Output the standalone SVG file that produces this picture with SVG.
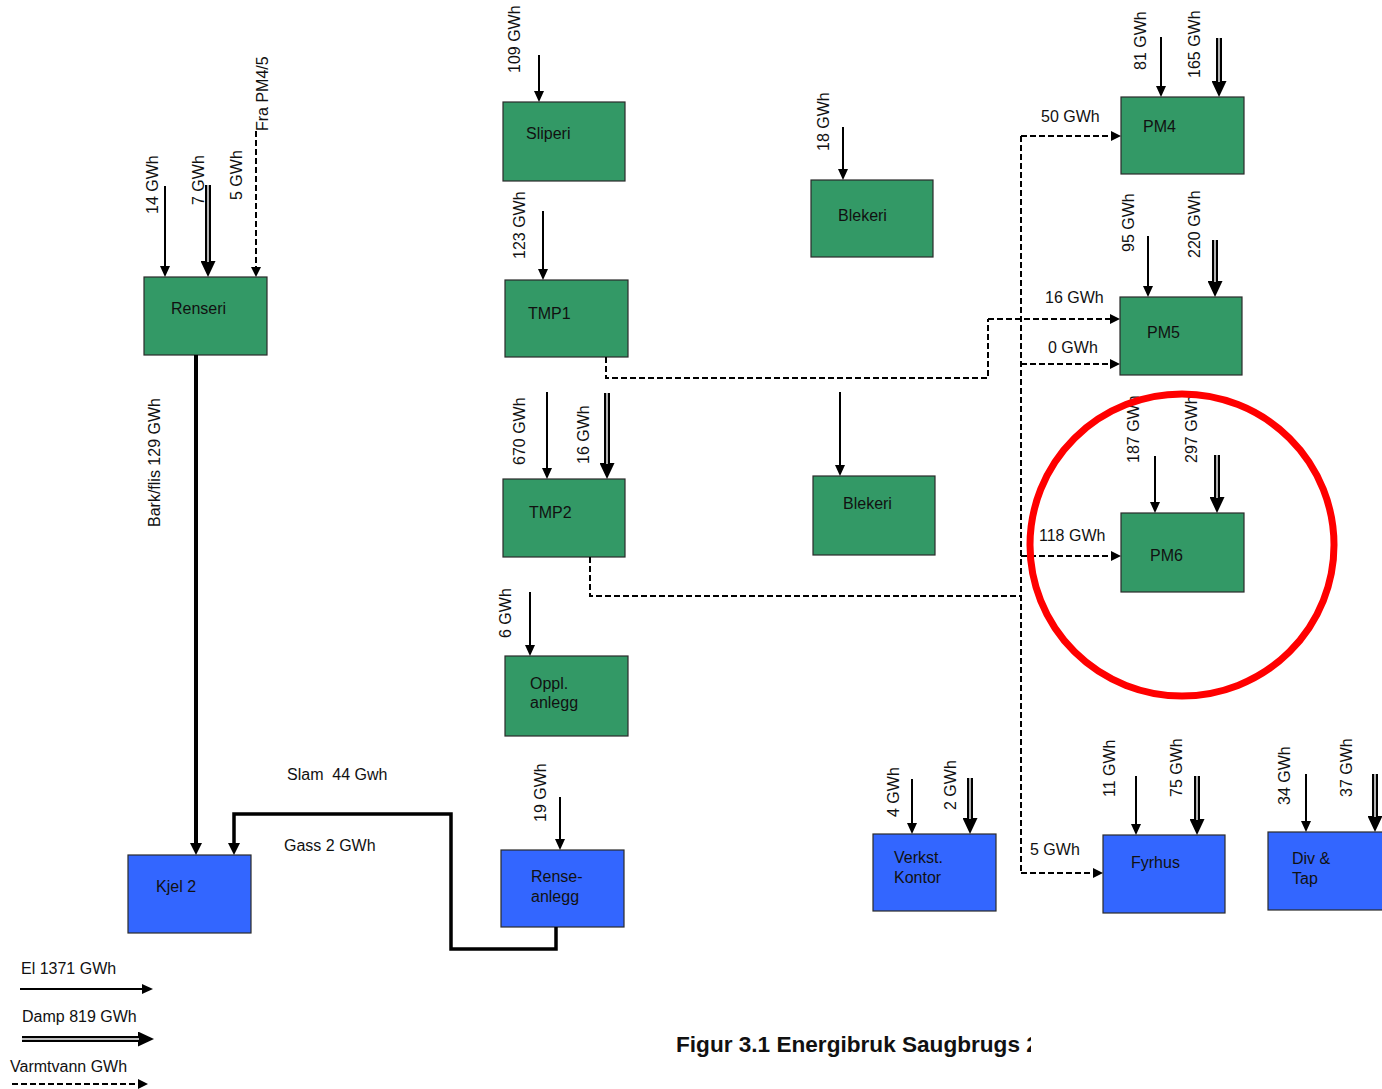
<svg xmlns="http://www.w3.org/2000/svg" width="1382" height="1089" viewBox="0 0 1382 1089">
<style>
text{font-family:"Liberation Sans",Arial,sans-serif;font-size:16px;fill:#111}
.g{fill:#339966;stroke:#2a2a2a;stroke-width:1.2}
.b{fill:#3366ff;stroke:#2a2a2a;stroke-width:1.2}
.el{stroke:#000;stroke-width:2;fill:none;marker-end:url(#elH)}
.st{stroke:#000;stroke-width:6;fill:none;marker-end:url(#stH)}
.sti{stroke:#fff;stroke-width:1.4;fill:none}
.vt{stroke:#000;stroke-width:2;fill:none;stroke-dasharray:6 3}
.vta{stroke:#000;stroke-width:2;fill:none;stroke-dasharray:6 3;marker-end:url(#vtH)}
.thick{stroke:#000;stroke-width:4;fill:none;marker-end:url(#thH)}
.title{font-size:22.6px;font-weight:bold}
</style>
<defs>
<marker id="elH" markerUnits="userSpaceOnUse" markerWidth="11" markerHeight="10" refX="0" refY="5" orient="auto"><path d="M0,0 L11,5 L0,10 z" fill="#000"/></marker>
<marker id="stH" markerUnits="userSpaceOnUse" markerWidth="16" markerHeight="15" refX="0" refY="7.5" orient="auto"><path d="M0,0 L16,7.5 L0,15 z" fill="#000"/></marker>
<marker id="vtH" markerUnits="userSpaceOnUse" markerWidth="10" markerHeight="10" refX="0" refY="5" orient="auto"><path d="M0,0 L10,5 L0,10 z" fill="#000"/></marker>
<marker id="thH" markerUnits="userSpaceOnUse" markerWidth="12" markerHeight="12" refX="0" refY="6" orient="auto"><path d="M0,0 L12,6 L0,12 z" fill="#000"/></marker>
<clipPath id="tclip"><rect x="0" y="1000" width="1031" height="89"/></clipPath>
</defs>

<g id="renseri"><rect class="g" x="144" y="277" width="123" height="78"/><text x="171" y="314">Renseri</text></g>
<g id="sliperi"><rect class="g" x="503" y="102" width="122" height="79"/><text x="526" y="139">Sliperi</text></g>
<g id="tmp1"><rect class="g" x="505" y="280" width="123" height="77"/><text x="528" y="319">TMP1</text></g>
<g id="tmp2"><rect class="g" x="503" y="479" width="122" height="78"/><text x="529" y="518">TMP2</text></g>
<g id="oppl"><rect class="g" x="505" y="656" width="123" height="80"/><text x="530" y="689">Oppl.</text><text x="530" y="708">anlegg</text></g>
<g id="blekeri1"><rect class="g" x="811" y="180" width="122" height="77"/><text x="838" y="221">Blekeri</text></g>
<g id="blekeri2"><rect class="g" x="813" y="476" width="122" height="79"/><text x="843" y="509">Blekeri</text></g>
<g id="pm4"><rect class="g" x="1121" y="97" width="123" height="77"/><text x="1143" y="132">PM4</text></g>
<g id="pm5"><rect class="g" x="1120" y="297" width="122" height="78"/><text x="1147" y="338">PM5</text></g>
<g id="pm6"><rect class="g" x="1121" y="513" width="123" height="79"/><text x="1150" y="561">PM6</text></g>
<g id="kjel2"><rect class="b" x="128" y="855" width="123" height="78"/><text x="156" y="892">Kjel 2</text></g>
<g id="renseanlegg"><rect class="b" x="501" y="850" width="123" height="77"/><text x="531" y="882">Rense-</text><text x="531" y="902">anlegg</text></g>
<g id="verkst"><rect class="b" x="873" y="834" width="123" height="77"/><text x="894" y="863">Verkst.</text><text x="894" y="883">Kontor</text></g>
<g id="fyrhus"><rect class="b" x="1103" y="835" width="122" height="78"/><text x="1131" y="868">Fyrhus</text></g>
<g id="divtap"><rect class="b" x="1268" y="832" width="130" height="78"/><text x="1292" y="864">Div &amp;</text><text x="1292" y="884">Tap</text></g>

<g id="connectors">
<path class="el" d="M165,186 V266"/>
<path class="el" d="M539,55 V91"/>
<path class="el" d="M543,211 V269"/>
<path class="el" d="M547,392 V468"/>
<path class="el" d="M530,592 V645"/>
<path class="el" d="M560,797 V839"/>
<path class="el" d="M843,127 V169"/>
<path class="el" d="M840,392 V465"/>
<path class="el" d="M1161,37 V86"/>
<path class="el" d="M1148,236 V286"/>
<path class="el" d="M1155,456 V502"/>
<path class="el" d="M912,779 V823"/>
<path class="el" d="M1136,776 V824"/>
<path class="el" d="M1306,774 V821"/>
<path class="st" d="M208,185 V261"/><path class="sti" d="M208,185 V262"/>
<path class="st" d="M607,393 V463"/><path class="sti" d="M607,393 V464"/>
<path class="st" d="M1219,38 V81"/><path class="sti" d="M1219,38 V82"/>
<path class="st" d="M1215,240 V281"/><path class="sti" d="M1215,240 V282"/>
<path class="st" d="M1217,455 V497"/><path class="sti" d="M1217,455 V498"/>
<path class="st" d="M970,778 V818"/><path class="sti" d="M970,778 V819"/>
<path class="st" d="M1197,776 V819"/><path class="sti" d="M1197,776 V820"/>
<path class="st" d="M1375,774 V816"/><path class="sti" d="M1375,774 V817"/>
<path class="vta" d="M256,131 V267"/>
<path class="vt" d="M606,357 V378 H988 V319"/>
<path class="vta" d="M988,319 H1110"/>
<path class="vt" d="M1021,136 V873"/>
<path class="vta" d="M1021,136 H1111"/>
<path class="vta" d="M1021,364 H1110"/>
<path class="vta" d="M1021,556 H1111"/>
<path class="vta" d="M1021,873 H1093"/>
<path class="vt" d="M590,557 V596 H1021"/>
<path class="thick" d="M196,355 V843"/>
<path class="thick" style="stroke-width:3.5" d="M556,927 V949 H451 V814 H234 V843"/>
</g>

<g id="labels">
<text transform="translate(158,214) rotate(-90)">14 GWh</text>
<text transform="translate(204,205) rotate(-90)">7 GWh</text>
<text transform="translate(242,200) rotate(-90)">5 GWh</text>
<text transform="translate(268,131) rotate(-90)">Fra PM4/5</text>
<text transform="translate(160,527) rotate(-90)">Bark/flis 129 GWh</text>
<text transform="translate(520,73) rotate(-90)">109 GWh</text>
<text transform="translate(525,259) rotate(-90)">123 GWh</text>
<text transform="translate(525,465) rotate(-90)">670 GWh</text>
<text transform="translate(589,464) rotate(-90)">16 GWh</text>
<text transform="translate(511,638) rotate(-90)">6 GWh</text>
<text transform="translate(546,822) rotate(-90)">19 GWh</text>
<text transform="translate(829,151) rotate(-90)">18 GWh</text>
<text transform="translate(1146,70) rotate(-90)">81 GWh</text>
<text transform="translate(1200,78) rotate(-90)">165 GWh</text>
<text transform="translate(1134,252) rotate(-90)">95 GWh</text>
<text transform="translate(1200,258) rotate(-90)">220 GWh</text>
<text transform="translate(1139,463) rotate(-90)">187 GWh</text>
<text transform="translate(1197,463) rotate(-90)">297 GWh</text>
<text transform="translate(899,817) rotate(-90)">4 GWh</text>
<text transform="translate(956,810) rotate(-90)">2 GWh</text>
<text transform="translate(1115,797) rotate(-90)">11 GWh</text>
<text transform="translate(1182,797) rotate(-90)">75 GWh</text>
<text transform="translate(1290,805) rotate(-90)">34 GWh</text>
<text transform="translate(1352,797) rotate(-90)">37 GWh</text>
<text x="1041" y="122">50 GWh</text>
<text x="1045" y="303">16 GWh</text>
<text x="1048" y="353">0 GWh</text>
<text x="1039" y="541">118 GWh</text>
<text x="1030" y="855">5 GWh</text>
<text x="287" y="780" xml:space="preserve">Slam  44 Gwh</text>
<text x="284" y="851">Gass 2 GWh</text>
</g>

<ellipse id="highlight" cx="1182" cy="545" rx="152" ry="151" fill="none" stroke="#ff0000" stroke-width="7"/>

<g id="legend">
<text x="21" y="974">El 1371 GWh</text>
<path class="el" d="M20,989 H142"/>
<text x="22" y="1022">Damp 819 GWh</text>
<path class="st" d="M22,1039 H138"/><path class="sti" d="M22,1039 H139"/>
<text x="10" y="1072">Varmtvann GWh</text>
<path class="vta" d="M12,1084 H138"/>
</g>

<text class="title" x="676" y="1052" clip-path="url(#tclip)">Figur 3.1 Energibruk Saugbrugs 2</text>
</svg>
